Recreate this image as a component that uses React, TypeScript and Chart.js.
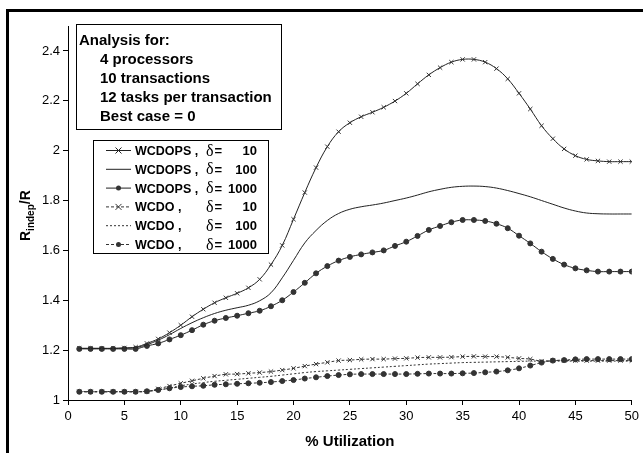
import { useEffect, useRef } from 'react';
import { Chart, registerables } from 'chart.js';

Chart.register(...registerables);

const utilization = [1, 2, 3, 4, 5, 6, 7, 8, 9, 10, 11, 12, 13, 14, 15, 16, 17, 18, 19, 20, 21, 22, 23, 24, 25, 26, 27, 28, 29, 30, 31, 32, 33, 34, 35, 36, 37, 38, 39, 40, 41, 42, 43, 44, 45, 46, 47, 48, 49, 50];

const wcdops10 = [1.207, 1.207, 1.207, 1.207, 1.209, 1.212, 1.227, 1.245, 1.27, 1.3, 1.334, 1.364, 1.39, 1.41, 1.428, 1.45, 1.484, 1.543, 1.62, 1.725, 1.832, 1.932, 2.016, 2.076, 2.112, 2.136, 2.154, 2.174, 2.199, 2.23, 2.268, 2.304, 2.333, 2.355, 2.366, 2.366, 2.355, 2.329, 2.288, 2.23, 2.167, 2.1, 2.048, 2.007, 1.98, 1.965, 1.959, 1.956, 1.956, 1.956];
const wcdops100 = [1.207, 1.207, 1.207, 1.207, 1.208, 1.21, 1.222, 1.24, 1.262, 1.287, 1.31, 1.33, 1.347, 1.36, 1.37, 1.38, 1.398, 1.43, 1.49, 1.56, 1.63, 1.68, 1.72, 1.748, 1.765, 1.775, 1.782, 1.79, 1.8, 1.81, 1.822, 1.835, 1.845, 1.853, 1.857, 1.858, 1.856, 1.85, 1.84, 1.828, 1.815, 1.8, 1.785, 1.77, 1.758, 1.75, 1.747, 1.746, 1.746, 1.746];
const wcdops1000 = [1.205, 1.205, 1.205, 1.205, 1.205, 1.205, 1.217, 1.227, 1.243, 1.26, 1.28, 1.302, 1.318, 1.329, 1.338, 1.348, 1.358, 1.376, 1.4, 1.433, 1.47, 1.508, 1.537, 1.559, 1.574, 1.584, 1.592, 1.6, 1.618, 1.635, 1.658, 1.682, 1.698, 1.713, 1.722, 1.722, 1.718, 1.707, 1.689, 1.659, 1.628, 1.595, 1.566, 1.543, 1.528, 1.52, 1.515, 1.515, 1.515, 1.515];
const wcdo10 = [1.033, 1.033, 1.033, 1.033, 1.033, 1.033, 1.034, 1.045, 1.056, 1.067, 1.077, 1.087, 1.096, 1.103, 1.104, 1.107, 1.11, 1.114, 1.12, 1.127, 1.136, 1.144, 1.151, 1.158, 1.16, 1.163, 1.164, 1.164, 1.166, 1.167, 1.17, 1.171, 1.171, 1.172, 1.174, 1.175, 1.174, 1.174, 1.171, 1.167, 1.164, 1.156, 1.158, 1.158, 1.158, 1.158, 1.158, 1.158, 1.158, 1.158];
const wcdo100 = [1.034, 1.034, 1.034, 1.034, 1.034, 1.034, 1.035, 1.04, 1.048, 1.057, 1.064, 1.07, 1.075, 1.079, 1.083, 1.087, 1.091, 1.095, 1.1, 1.105, 1.11, 1.114, 1.117, 1.12, 1.123, 1.126, 1.129, 1.132, 1.135, 1.138, 1.141, 1.144, 1.146, 1.148, 1.15, 1.151, 1.152, 1.153, 1.154, 1.155, 1.156, 1.156, 1.156, 1.156, 1.156, 1.156, 1.156, 1.156, 1.156, 1.156];
const wcdo1000 = [1.033, 1.033, 1.033, 1.033, 1.033, 1.033, 1.035, 1.04, 1.047, 1.052, 1.055, 1.057, 1.061, 1.063, 1.065, 1.067, 1.069, 1.072, 1.076, 1.08, 1.086, 1.091, 1.096, 1.1, 1.103, 1.104, 1.104, 1.104, 1.104, 1.104, 1.105, 1.106, 1.106, 1.106, 1.107, 1.108, 1.111, 1.114, 1.119, 1.127, 1.138, 1.15, 1.158, 1.16, 1.163, 1.164, 1.164, 1.164, 1.164, 1.164];

const seriesNames = ['WCDOPS ,', 'WCDOPS ,', 'WCDOPS ,', 'WCDO ,', 'WCDO ,', 'WCDO ,'];
const seriesDeltas = ['10', '100', '1000', '10', '100', '1000'];
const annotationLines = ['Analysis for:', '4 processors', '10 transactions', '12 tasks per transaction', 'Best case = 0'];
const xTitle = '% Utilization';
const yTitleMain = 'R';
const yTitleSub = 'indep';
const yTitleTail = '/R';

const SANS = '"Liberation Sans", Arial, Helvetica, sans-serif';
const SERIF = '"Liberation Serif", "Times New Roman", serif';
const INK = '#222';

function toPoints(values: number[]) {
  return utilization.map((u, i) => ({ x: u, y: values[i] }));
}

const seriesValues = [wcdops10, wcdops100, wcdops1000, wcdo10, wcdo100, wcdo1000];
const seriesStyles = [
  { dash: [] as number[], marker: 'crossRot', color: '#222' },
  { dash: [] as number[], marker: 'none', color: '#222' },
  { dash: [] as number[], marker: 'circle', color: '#222' },
  { dash: [3, 2], marker: 'crossRot', color: '#333' },
  { dash: [2, 2], marker: 'none', color: '#333' },
  { dash: [3, 2], marker: 'circle', color: '#333' },
];

function drawMarker(ctx: CanvasRenderingContext2D, kind: string, x: number, y: number) {
  if (kind === 'crossRot') {
    const r = 3;
    ctx.beginPath();
    ctx.moveTo(x - r, y - r);
    ctx.lineTo(x + r, y + r);
    ctx.moveTo(x - r, y + r);
    ctx.lineTo(x + r, y - r);
    ctx.stroke();
  } else if (kind === 'circle') {
    ctx.beginPath();
    ctx.arc(x, y, 2.5, 0, Math.PI * 2);
    ctx.fill();
  }
}

const overlayPlugin = {
  id: 'overlay',
  beforeDraw(chart: any) {
    const ctx = chart.ctx as CanvasRenderingContext2D;
    ctx.save();
    ctx.fillStyle = '#fff';
    ctx.fillRect(0, 0, chart.width, chart.height);
    ctx.restore();
  },
  afterDraw(chart: any) {
    const ctx = chart.ctx as CanvasRenderingContext2D;
    const W = chart.width;
    const H = chart.height;
    ctx.save();

    // outer frame (left + top)
    ctx.fillStyle = '#000';
    ctx.fillRect(6, 9, 3, H - 9);
    ctx.fillRect(6, 9, W - 6, 3);

    // annotation box
    ctx.fillStyle = '#fff';
    ctx.fillRect(76.5, 24.5, 205, 105);
    ctx.strokeStyle = '#000';
    ctx.lineWidth = 1;
    ctx.strokeRect(76.5, 24.5, 205, 105);
    ctx.fillStyle = '#000';
    ctx.font = `bold 15px ${SANS}`;
    ctx.textAlign = 'left';
    ctx.textBaseline = 'alphabetic';
    annotationLines.forEach((line, i) => {
      ctx.fillText(line, i === 0 ? 79 : 100, 45 + i * 19);
    });

    // legend box
    ctx.fillStyle = '#fff';
    ctx.fillRect(93.5, 140.5, 175, 113);
    ctx.strokeStyle = '#000';
    ctx.strokeRect(93.5, 140.5, 175, 113);
    seriesNames.forEach((name, i) => {
      const cy = 150.5 + i * 18.8;
      const st = seriesStyles[i];
      ctx.strokeStyle = st.color;
      ctx.fillStyle = '#333';
      ctx.lineWidth = 1;
      ctx.setLineDash(st.dash);
      ctx.beginPath();
      ctx.moveTo(106, cy);
      ctx.lineTo(131, cy);
      ctx.stroke();
      ctx.setLineDash([]);
      drawMarker(ctx, st.marker, 118.5, cy);
      ctx.fillStyle = '#000';
      ctx.font = `bold 12.5px ${SANS}`;
      ctx.textAlign = 'left';
      ctx.fillText(name, 135, cy + 4.5);
      ctx.font = `16px ${SERIF}`;
      ctx.fillText('\u03B4', 206, cy + 5);
      const dw = ctx.measureText('\u03B4').width;
      ctx.font = `bold 13px ${SANS}`;
      ctx.fillText('=', 206 + dw + 1, cy + 4.5);
      ctx.textAlign = 'right';
      ctx.fillText(seriesDeltas[i], 257, cy + 4.5);
    });

    // x title
    const area = chart.chartArea;
    ctx.fillStyle = '#000';
    ctx.textAlign = 'center';
    ctx.font = `bold 15px ${SANS}`;
    ctx.fillText(xTitle, (area.left + area.right) / 2, 446);

    // y title with subscript
    ctx.translate(30, 241);
    ctx.rotate(-Math.PI / 2);
    ctx.textAlign = 'left';
    ctx.font = `bold 14px ${SANS}`;
    ctx.fillText(yTitleMain, 0, 0);
    const w1 = ctx.measureText(yTitleMain).width;
    ctx.font = `bold 10px ${SANS}`;
    ctx.fillText(yTitleSub, w1, 3.5);
    const w2 = ctx.measureText(yTitleSub).width;
    ctx.font = `bold 14px ${SANS}`;
    ctx.fillText(yTitleTail, w1 + w2, 0);

    ctx.restore();
  },
};

export default function App() {
  const canvasRef = useRef<HTMLCanvasElement | null>(null);

  useEffect(() => {
    const canvas = canvasRef.current;
    if (!canvas) return;
    const datasets = seriesValues.map((vals, i) => {
      const st = seriesStyles[i];
      return {
        label: `${seriesNames[i]} \u03B4 = ${seriesDeltas[i]}`,
        data: toPoints(vals),
        borderColor: st.color,
        backgroundColor: '#333',
        borderWidth: 1,
        borderDash: st.dash,
        tension: 0.4,
        fill: false,
        pointStyle: st.marker === 'none' ? 'circle' : st.marker,
        pointRadius: st.marker === 'none' ? 0 : st.marker === 'circle' ? 2.5 : 3,
        pointBorderColor: '#333',
        pointBackgroundColor: '#333',
        pointBorderWidth: 1,
      };
    });

    const chart = new Chart(canvas, {
      type: 'line',
      data: { datasets } as any,
      options: {
        animation: false,
        responsive: false,
        devicePixelRatio: 1,
        layout: { padding: { top: 26, right: 10, left: 0, bottom: 0 } },
        plugins: { legend: { display: false }, tooltip: { enabled: false } },
        scales: {
          x: {
            type: 'linear',
            min: 0,
            max: 50,
            ticks: {
              stepSize: 5,
              color: '#000',
              font: { size: 13, family: SANS },
              padding: 4,
              maxRotation: 0,
            },
            grid: { drawOnChartArea: false, drawTicks: true, tickLength: 5, color: '#000' },
            border: { color: '#000', width: 1 },
            afterFit: (s: any) => {
              s.height = 53;
            },
          },
          y: {
            type: 'linear',
            min: 1,
            max: 2.5,
            ticks: {
              stepSize: 0.2,
              color: '#000',
              font: { size: 13, family: SANS },
              padding: 3,
              callback: (v: any) => String(Number(Number(v).toFixed(1))),
            },
            afterBuildTicks: (s: any) => {
              s.ticks = s.ticks.filter((t: any) => t.value <= 2.4 + 1e-9);
            },
            grid: { drawOnChartArea: false, drawTicks: true, tickLength: 5, color: '#000' },
            border: { color: '#000', width: 1 },
            afterFit: (s: any) => {
              s.width = 68;
            },
          },
        },
      } as any,
      plugins: [overlayPlugin],
    });

    return () => {
      chart.destroy();
    };
  }, []);

  return (
    <div style={{ position: 'absolute', left: 0, top: 0, width: 643, height: 453 }}>
      <canvas ref={canvasRef} width={643} height={453} style={{ display: 'block' }} />
    </div>
  );
}
